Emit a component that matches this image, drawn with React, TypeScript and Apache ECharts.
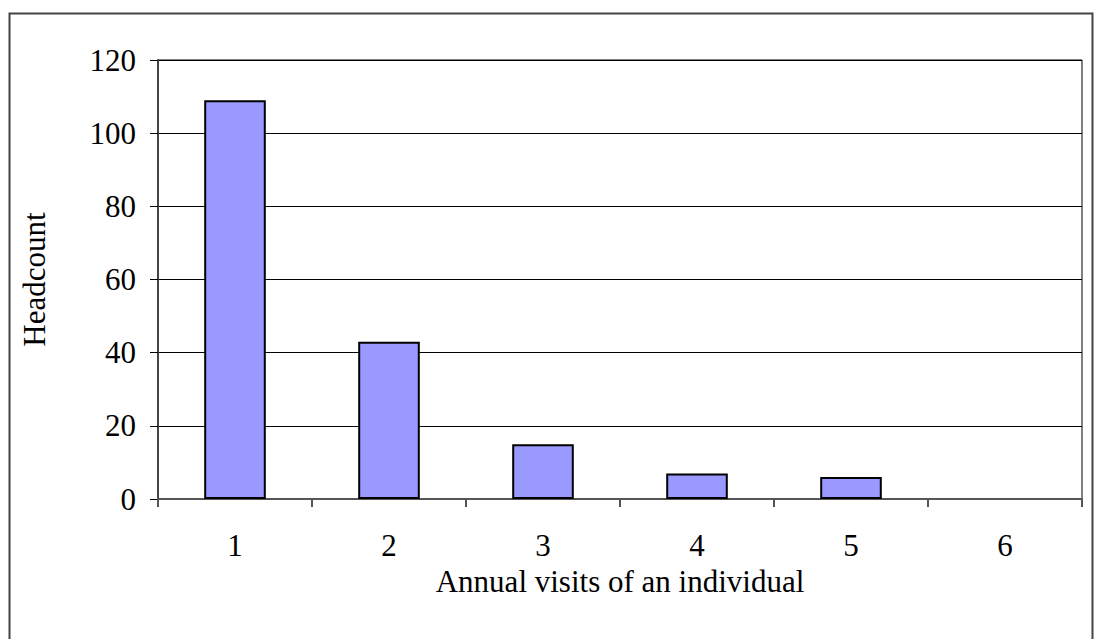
import React, { useEffect, useRef } from "react";
import * as echarts from "echarts";

const categories = ["1", "2", "3", "4", "5", "6"];
const headcount = [109, 43, 15, 7, 6, 0];
const yTicks = [0, 20, 40, 60, 80, 100, 120];

export default function App() {
  const ref = useRef<HTMLDivElement>(null);
  useEffect(() => {
    if (!ref.current) return;
    const chart = echarts.init(ref.current, null, { renderer: "svg" });
    const font = "'Liberation Serif', 'Times New Roman', serif";
    const fs = 31;
    chart.setOption({
      animation: false,
      backgroundColor: "#ffffff",
      textStyle: { fontFamily: font },
      graphic: [
        {
          type: "rect",
          shape: { x: 9.5, y: 13.5, width: 1083, height: 700 },
          style: { fill: "none", stroke: "#444", lineWidth: 2 },
          silent: true,
        },
      ],
      grid: {
        left: 158,
        top: 60,
        right: 12,
        bottom: 140,
        show: true,
        borderColor: "#000",
        borderWidth: 1,
        backgroundColor: "transparent",
      },
      xAxis: {
        type: "category",
        data: categories,
        boundaryGap: true,
        name: "Annual visits of an individual",
        nameLocation: "middle",
        nameGap: 63,
        nameTextStyle: { fontFamily: font, fontSize: fs, color: "#000" },
        axisLine: { show: true, lineStyle: { color: "#555", width: 2 } },
        axisTick: { show: true, alignWithLabel: false, length: 8, lineStyle: { color: "#555", width: 2 } },
        axisLabel: { fontFamily: font, fontSize: fs, color: "#000", margin: 31 },
        splitLine: { show: false },
      },
      yAxis: {
        type: "value",
        min: 0,
        max: 120,
        interval: 20,
        name: "Headcount",
        nameLocation: "middle",
        nameGap: 108,
        nameRotate: 90,
        nameTextStyle: { fontFamily: font, fontSize: fs, color: "#000" },
        axisLine: { show: true, lineStyle: { color: "#444", width: 2 } },
        axisTick: { show: true, length: 8, lineStyle: { color: "#000", width: 1 } },
        axisLabel: {
          fontFamily: font,
          fontSize: fs,
          color: "#000",
          margin: 22,
          formatter: (v: number) => (yTicks.includes(v) ? String(v) : ""),
        },
        splitLine: { show: true, lineStyle: { color: "#000", width: 1 } },
      },
      series: [
        {
          type: "bar",
          data: headcount.map((v) => ({
            value: v,
            itemStyle: v === 0 ? { borderWidth: 0 } : undefined,
          })),
          barWidth: "40%",
          itemStyle: { color: "#9999FF", borderColor: "#000", borderWidth: 2 },
        },
      ],
    });
    return () => chart.dispose();
  }, []);
  return (
    <div
      ref={ref}
      style={{ position: "fixed", left: 0, top: 0, width: 1094, height: 639 }}
    />
  );
}
